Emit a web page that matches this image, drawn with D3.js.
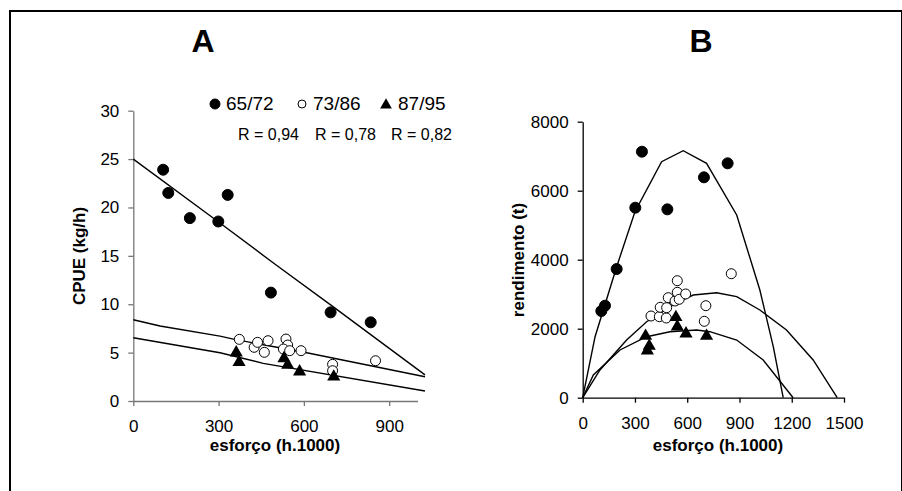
<!DOCTYPE html>
<html>
<head>
<meta charset="utf-8">
<script src="https://cdn.jsdelivr.net/npm/d3@7"></script>
<style>
  body { margin: 0; background: #fff; }
  svg text { font-family: Arial, "Liberation Sans", sans-serif; fill: #000; }
</style>
</head>
<body>
<div id="chart"></div>
<script>
// ---- data ----
// panel A : CPUE vs effort
const effortA65 = [105, 123, 199, 299, 332, 484, 694, 835];
const cpue65    = [23.9, 21.5, 18.9, 18.55, 21.3, 11.2, 9.16, 8.13];
const effortA73 = [373, 425, 437, 461, 474, 537, 543, 528, 550, 590, 701, 701, 852];
const cpue73    = [6.37, 5.55, 6.06, 5.03, 6.23, 6.4, 5.78, 5.37, 5.2, 5.2, 3.79, 3.13, 4.16];
const effortA87 = [362, 372, 530, 543, 585, 705];
const cpue87    = [4.99, 4.0, 4.4, 3.72, 3.03, 2.5];

// fitted lines (read points)
const fitA65 = [[0, 25.0], [300, 18.5], [500, 14.1], [700, 9.8], [1026, 2.7]];
const fitA73 = [[0, 8.4], [94, 7.75], [305, 6.7], [356, 6.37], [481, 5.68], [610, 4.99], [1026, 2.51]];
const fitA87 = [[0, 6.54], [305, 4.99], [457, 3.89], [1026, 1.03]];

// panel B : yield vs effort
const effortB65 = [107, 128, 195, 302, 340, 486, 696, 832];
const yield65   = [2513, 2667, 3730, 5507, 7130, 5460, 6388, 6794];
const effortB73 = [392, 440, 445, 480, 482, 491, 530, 543, 543, 554, 591, 698, 707, 853];
const yield73   = [2368, 2348, 2620, 2310, 2609, 2899, 2803, 3391, 3055, 2852, 3006, 2214, 2667, 3594];
const effortB87 = [361, 371, 382, 535, 543, 593, 711];
const yield87   = [1788, 1362, 1499, 2330, 2058, 1855, 1788];

const curveB65 = [[0, 0], [71, 1768], [195, 3797], [300, 5391], [453, 6840], [577, 7159], [711, 6794], [884, 5296], [1017, 3122], [1094, 1478], [1151, 0]];
const curveB73 = [[0, 0], [99, 803], [252, 1672], [367, 2203], [539, 2754], [635, 2977], [769, 3043], [884, 2928], [1017, 2542], [1170, 1962], [1323, 1093], [1461, 0]];
const curveB87 = [[0, 0], [61, 658], [214, 1383], [367, 1768], [501, 1913], [654, 1962], [730, 1913], [884, 1672], [1036, 1093], [1208, 0]];

const ticksAx = [0, 300, 600, 900];
const ticksAy = [0, 5, 10, 15, 20, 25, 30];
const ticksBx = [0, 300, 600, 900, 1200, 1500];
const ticksBy = [0, 2000, 4000, 6000, 8000];

const legendLabels = ["65/72", "73/86", "87/95"];
const rLabels = ["R = 0,94", "R = 0,78", "R = 0,82"];

const W = 902, H = 491;

let svg = d3.select("#chart").append("svg")
    .attr("width", W)
    .attr("height", H);

// frame
svg.append("rect")
    .attr("x", 10).attr("y", 11)
    .attr("width", 892).attr("height", 492)
    .attr("fill", "none")
    .attr("stroke", "#000")
    .attr("stroke-width", 2);

// scales
let xA = d3.scaleLinear().domain([0, 1000]).range([133.3, 417.6]);
let yA = d3.scaleLinear().domain([0, 30]).range([401, 110.7]);
let xB = d3.scaleLinear().domain([0, 1500]).range([582.7, 844]);
let yB = d3.scaleLinear().domain([0, 8000]).range([397.7, 121.7]);

function drawAxes(x, y, xt, yt, color) {
    let gx = svg.append("g")
        .attr("transform", "translate(0," + y(0) + ")")
        .call(d3.axisBottom(x).tickValues(xt).tickSize(5).tickPadding(14).tickSizeOuter(0).tickFormat(d3.format("d")));
    let gy = svg.append("g")
        .attr("transform", "translate(" + x(0) + ",0)")
        .call(d3.axisLeft(y).tickValues(yt).tickSize(5).tickPadding(9).tickSizeOuter(0).tickFormat(d3.format("d")));
    [gx, gy].forEach(g => {
        g.select(".domain").attr("stroke", color).attr("stroke-width", 1.3);
        g.selectAll(".tick line").attr("stroke", color).attr("stroke-width", 1.3);
        g.selectAll(".tick text").style("font-size", "17px").attr("fill", "#000");
    });
}

drawAxes(xA, yA, ticksAx, ticksAy, "#777");
drawAxes(xB, yB, ticksBx, ticksBy, "#000");

function drawLine(pts, x, y) {
    let line = d3.line().x(d => x(d[0])).y(d => y(d[1]));
    svg.append("path")
        .attr("d", line(pts))
        .attr("fill", "none")
        .attr("stroke", "#000")
        .attr("stroke-width", 1.4);
}

[fitA65, fitA73, fitA87].forEach(p => drawLine(p, xA, yA));
[curveB65, curveB73, curveB87].forEach(p => drawLine(p, xB, yB));

function dots(xs, ys, x, y, kind) {
    let pts = xs.map((v, i) => [v, ys[i]]);
    let g = svg.append("g");
    if (kind === "tri") {
        g.selectAll("path").data(pts).enter().append("path")
            .attr("d", d3.symbol().type(d3.symbolTriangle).size(75))
            .attr("transform", d => "translate(" + x(d[0]) + "," + y(d[1]) + ")")
            .attr("fill", "#000");
    } else {
        g.selectAll("circle").data(pts).enter().append("circle")
            .attr("cx", d => x(d[0]))
            .attr("cy", d => y(d[1]))
            .attr("r", kind === "fill" ? 5.5 : 5)
            .attr("fill", kind === "fill" ? "#000" : "#fff")
            .attr("stroke", "#000")
            .attr("stroke-width", 1);
    }
}

dots(effortA73, cpue73, xA, yA, "open");
dots(effortA65, cpue65, xA, yA, "fill");
dots(effortA87, cpue87, xA, yA, "tri");
dots(effortB73, yield73, xB, yB, "open");
dots(effortB65, yield65, xB, yB, "fill");
dots(effortB87, yield87, xB, yB, "tri");

// panel letters
svg.append("text").attr("x", 203).attr("y", 52).attr("text-anchor", "middle")
    .style("font-size", "32px").style("font-weight", "bold").text("A");
svg.append("text").attr("x", 701).attr("y", 52).attr("text-anchor", "middle")
    .style("font-size", "32px").style("font-weight", "bold").text("B");

// axis titles
svg.append("text").attr("x", 275).attr("y", 451).attr("text-anchor", "middle")
    .style("font-size", "17px").style("font-weight", "bold").text("esforço (h.1000)");
svg.append("text").attr("x", 718).attr("y", 451).attr("text-anchor", "middle")
    .style("font-size", "17px").style("font-weight", "bold").text("esforço (h.1000)");
svg.append("text").attr("transform", "translate(85,256) rotate(-90)").attr("text-anchor", "middle")
    .style("font-size", "17px").style("font-weight", "bold").text("CPUE (kg/h)");
svg.append("text").attr("transform", "translate(524,260) rotate(-90)").attr("text-anchor", "middle")
    .style("font-size", "17px").style("font-weight", "bold").text("rendimento (t)");

// legend
const legX = [226, 313, 398];
const legKinds = ["fill", "open", "tri"];
legendLabels.forEach((t, i) => {
    svg.append("text").attr("x", legX[i]).attr("y", 110)
        .style("font-size", "19px").text(t);
    let cx = legX[i] - 10, cy = 104;
    if (legKinds[i] === "tri") {
        svg.append("path").attr("d", d3.symbol().type(d3.symbolTriangle).size(60))
            .attr("transform", "translate(" + (cx - 2) + "," + (cy + 1) + ")").attr("fill", "#000");
    } else {
        svg.append("circle").attr("cx", cx - 1).attr("cy", cy).attr("r", legKinds[i] === "fill" ? 5 : 4)
            .attr("fill", legKinds[i] === "fill" ? "#000" : "#fff").attr("stroke", "#000");
    }
});
const rX = [299, 376, 452];
rLabels.forEach((t, i) => {
    svg.append("text").attr("x", rX[i]).attr("y", 140).attr("text-anchor", "end")
        .style("font-size", "16px").text(t);
});
</script>
</body>
</html>
